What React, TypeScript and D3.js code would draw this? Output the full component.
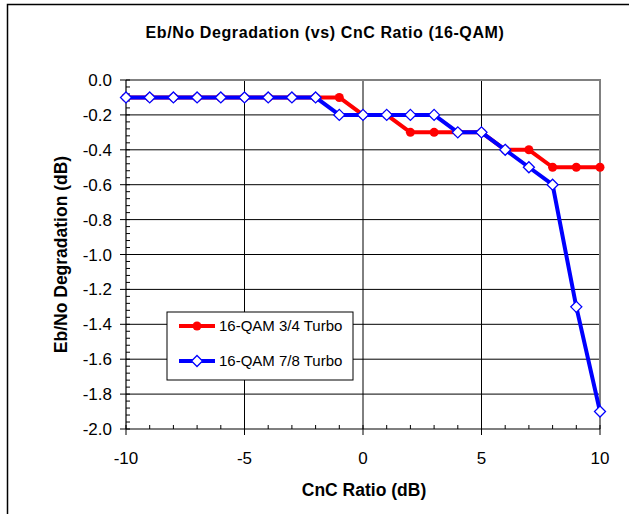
import React from "react";
import * as d3 from "d3";

const xValues = [-10, -9, -8, -7, -6, -5, -4, -3, -2, -1, 0, 1, 2, 3, 4, 5, 6, 7, 8, 9, 10];
const turbo34 = [-0.1, -0.1, -0.1, -0.1, -0.1, -0.1, -0.1, -0.1, -0.1, -0.1, -0.2, -0.2, -0.3, -0.3, -0.3, -0.3, -0.4, -0.4, -0.5, -0.5, -0.5];
const turbo78 = [-0.1, -0.1, -0.1, -0.1, -0.1, -0.1, -0.1, -0.1, -0.1, -0.2, -0.2, -0.2, -0.2, -0.2, -0.3, -0.3, -0.4, -0.5, -0.6, -1.3, -1.9];
const xTicks = [-10, -5, 0, 5, 10];
const yTicks = [0, -0.2, -0.4, -0.6, -0.8, -1.0, -1.2, -1.4, -1.6, -1.8, -2.0];
const seriesNames = ["16-QAM 3/4 Turbo", "16-QAM 7/8 Turbo"];

const W = 629;
const H = 514;
const FONT = "'Liberation Sans', Arial, sans-serif";

export default function App() {
  const left = 126, right = 600, top = 80, bottom = 429;
  const x = d3.scaleLinear().domain([-10, 10]).range([left, right]);
  const y = d3.scaleLinear().domain([0, -2]).range([top, bottom]);
  const line = d3.line<number>().x((_, i) => x(xValues[i])).y((d) => y(d));

  const xMinor = d3.range(-10, 11, 1);
  const yMinor = d3.range(0, 51).map((i) => -i * 0.04);

  const diamond = (cx: number, cy: number, r: number) =>
    `M${cx},${cy - r}L${cx + r},${cy}L${cx},${cy + r}L${cx - r},${cy}Z`;

  return (
    <svg width={W} height={H} style={{ position: "absolute", left: 0, top: 0, display: "block" }}>
      <rect x={0} y={0} width={W} height={H} fill="#fff" />
      <path d={`M7.5,${H}L7.5,4.5L${W},4.5`} fill="none" stroke="#000" strokeWidth={1.5} />
      <text x={325} y={38} textAnchor="middle" fontFamily={FONT} fontWeight="bold" fontSize={16} letterSpacing={0.6}>
        Eb/No Degradation (vs) CnC Ratio (16-QAM)
      </text>

      {yTicks.slice(1, -1).map((t) => (
        <line key={"hg" + t} x1={left} x2={right} y1={y(t)} y2={y(t)} stroke="#000" strokeWidth={1} />
      ))}
      {xTicks.slice(1, -1).map((t) => (
        <line key={"vg" + t} x1={x(t)} x2={x(t)} y1={top} y2={bottom} stroke="#000" strokeWidth={1} />
      ))}
      <path d={`M${left},${top}L${right},${top}L${right},${bottom}`} fill="none" stroke="#808080" strokeWidth={2} />

      <line x1={left} x2={left} y1={top} y2={bottom} stroke="#000" strokeWidth={1.2} />
      <line x1={left} x2={right} y1={bottom} y2={bottom} stroke="#000" strokeWidth={1.2} />
      {yMinor.map((t, i) => (
        <line key={"ym" + i} x1={left} x2={left + 4} y1={y(t)} y2={y(t)} stroke="#000" strokeWidth={1} />
      ))}
      {yTicks.map((t) => (
        <line key={"yM" + t} x1={left - 6} x2={left} y1={y(t)} y2={y(t)} stroke="#000" strokeWidth={1} />
      ))}
      {xMinor.map((t) => (
        <line key={"xm" + t} x1={x(t)} x2={x(t)} y1={bottom - 4} y2={bottom} stroke="#000" strokeWidth={1} />
      ))}
      {xTicks.map((t) => (
        <line key={"xM" + t} x1={x(t)} x2={x(t)} y1={bottom} y2={bottom + 6} stroke="#000" strokeWidth={1} />
      ))}
      {yTicks.map((t) => (
        <text key={"yl" + t} x={112} y={y(t) + 6} textAnchor="end" fontFamily={FONT} fontSize={17}>
          {d3.format(".1f")(t).replace("−", "-")}
        </text>
      ))}
      {xTicks.map((t) => (
        <text key={"xl" + t} x={x(t)} y={464} textAnchor="middle" fontFamily={FONT} fontSize={17}>
          {String(t)}
        </text>
      ))}
      <text x={364} y={496} textAnchor="middle" fontFamily={FONT} fontWeight="bold" fontSize={17.5}>
        CnC Ratio (dB)
      </text>
      <text
        transform={`translate(67,${(top + bottom) / 2}) rotate(-90)`}
        textAnchor="middle"
        fontFamily={FONT}
        fontWeight="bold"
        fontSize={17.5}
      >
        Eb/No Degradation (dB)
      </text>

      <path d={line(turbo34) || ""} fill="none" stroke="#ff0000" strokeWidth={4} strokeLinejoin="round" />
      {turbo34.map((v, i) => (
        <circle key={"r" + i} cx={x(xValues[i])} cy={y(v)} r={4.5} fill="#ff0000" />
      ))}
      <path d={line(turbo78) || ""} fill="none" stroke="#0000ff" strokeWidth={4} strokeLinejoin="round" />
      {turbo78.map((v, i) => (
        <path key={"b" + i} d={diamond(x(xValues[i]), y(v), 5.5)} fill="#fff" stroke="#0000ff" strokeWidth={1.3} />
      ))}

      <rect x={167} y={312} width={186} height={68} fill="#fff" stroke="#000" strokeWidth={1} />
      <line x1={179} x2={215} y1={326} y2={326} stroke="#ff0000" strokeWidth={4} />
      <circle cx={197} cy={326} r={4.5} fill="#ff0000" />
      <text x={219} y={331} fontFamily={FONT} fontSize={15}>{seriesNames[0]}</text>
      <line x1={179} x2={215} y1={361} y2={361} stroke="#0000ff" strokeWidth={4} />
      <path d={diamond(197, 361, 5.5)} fill="#fff" stroke="#0000ff" strokeWidth={1.3} />
      <text x={219} y={366} fontFamily={FONT} fontSize={15}>{seriesNames[1]}</text>
    </svg>
  );
}
